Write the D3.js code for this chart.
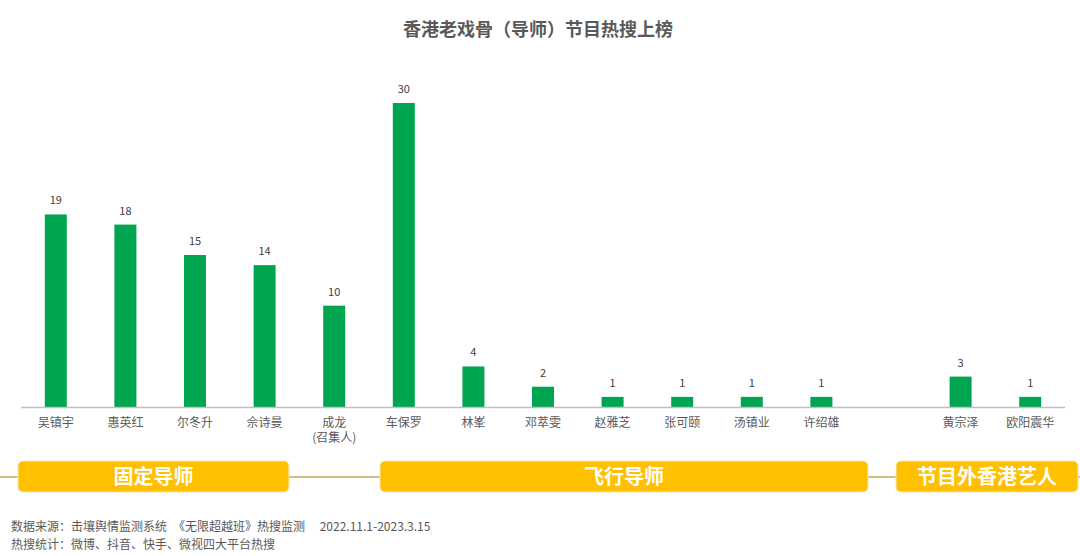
<!DOCTYPE html>
<html><head><meta charset="utf-8">
<script src="https://cdn.jsdelivr.net/npm/d3@7"></script>
<style>body{margin:0;background:#fff}svg{display:block}</style>
</head><body>
<svg id="c" width="1080" height="556"></svg>
<script>
const title = "香港老戏骨（导师）节目热搜上榜";
const categories = ["吴镇宇","惠英红","尔冬升","佘诗曼","成龙\n(召集人)","车保罗","林峯","邓萃雯","赵雅芝","张可颐","汤镇业","许绍雄","","黄宗泽","欧阳震华"];
const values = [19,18,15,14,10,30,4,2,1,1,1,1,null,3,1];
const groups = ["固定导师","飞行导师","节目外香港艺人"];
const footer = ["数据来源：击壤舆情监测系统　《无限超越班》热搜监测　 2022.11.1-2023.3.15","热搜统计：微博、抖音、快手、微视四大平台热搜"];

const svg = d3.select("#c");
const font = "'Noto Sans CJK SC','Microsoft YaHei',sans-serif";
const ids = categories.map((d,i)=>i);
const x = d3.scaleBand().domain(ids).range([21,1065]).paddingInner(0.684).paddingOuter(0.342);
const y = d3.scaleLinear().domain([0,30]).range([407,103]);

svg.append("text").attr("x",538).attr("y",36).attr("text-anchor","middle")
  .attr("font-family",font).attr("font-size",18).attr("font-weight","bold").attr("fill","#595959").text(title);

const data = ids.filter(i=>values[i]!=null);
svg.selectAll("rect.bar").data(data).join("rect").attr("class","bar")
  .attr("x",i=>x(i)).attr("width",x.bandwidth()).attr("y",i=>y(values[i])).attr("height",i=>y(0)-y(values[i]))
  .attr("fill","#00A54F");
svg.selectAll("text.val").data(data).join("text").attr("class","val")
  .attr("x",i=>x(i)+x.bandwidth()/2).attr("y",i=>y(values[i])-10).attr("text-anchor","middle")
  .attr("font-family",font).attr("font-size",11).attr("fill","#404040").text(i=>values[i]);

svg.append("line").attr("x1",21).attr("x2",1065).attr("y1",407.5).attr("y2",407.5).attr("stroke","#BFBFBF").attr("stroke-width",1.5);

const labs = svg.selectAll("text.cat").data(ids).join("text").attr("class","cat")
  .attr("x",i=>x(i)+x.bandwidth()/2).attr("y",427).attr("text-anchor","middle")
  .attr("font-family",font).attr("font-size",12).attr("fill","#595959");
labs.each(function(i){
  const lines = categories[i].split("\n");
  d3.select(this).selectAll("tspan").data(lines).join("tspan").attr("x",x(i)+x.bandwidth()/2).attr("dy",(d,k)=>k?15:0).text(d=>d);
});

svg.append("line").attr("x1",0).attr("x2",1080).attr("y1",477).attr("y2",477).attr("stroke","#C8A850").attr("stroke-width",1.5);
const bandBoxes = [[18,289],[380,868],[896,1078]];
groups.forEach((g,k)=>{
  const [a,b] = bandBoxes[k];
  svg.append("rect").attr("x",a).attr("y",461).attr("width",b-a).attr("height",31).attr("rx",5)
    .attr("fill","#FFC000").attr("stroke","#F2E6C0").attr("stroke-width",1);
  svg.append("text").attr("x",(a+b)/2).attr("y",484).attr("text-anchor","middle")
    .attr("font-family",font).attr("font-size",20).attr("font-weight","bold").attr("fill","#fff").text(g);
});

footer.forEach((t,k)=>{
  svg.append("text").attr("x",11).attr("y",531+k*18).attr("font-family",font).attr("font-size",12).attr("fill","#595959").text(t);
});
</script>
</body></html>
